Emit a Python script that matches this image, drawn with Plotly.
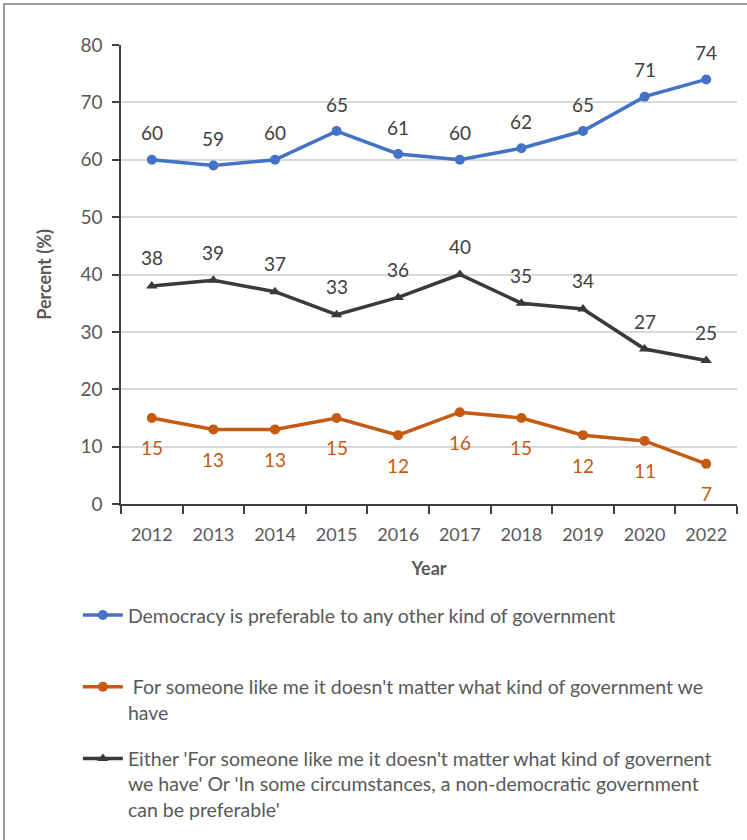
import plotly.graph_objects as go

years = ["2012", "2013", "2014", "2015", "2016", "2017", "2018", "2019", "2020", "2022"]
democracy = [60, 59, 60, 65, 61, 60, 62, 65, 71, 74]
doesnt_matter = [15, 13, 13, 15, 12, 16, 15, 12, 11, 7]
either = [38, 39, 37, 33, 36, 40, 35, 34, 27, 25]

names = [
    "Democracy is preferable to any other kind of government<br> ",
    " For someone like me it doesn't matter what kind of government we<br>have",
    "Either 'For someone like me it doesn't matter what kind of governent<br>we have' Or 'In some circumstances, a non-democratic government<br>can be preferable'",
]

BLUE = "#4472C4"
ORANGE = "#C55A11"
DARK = "#3A3A3A"
TXT = "#595959"
FONT = "Lato"

fig = go.Figure()
fig.add_trace(go.Scatter(x=years, y=democracy, name=names[0], mode="lines+markers",
                         line=dict(color=BLUE, width=3.5), marker=dict(symbol="circle", size=10, color=BLUE),
                         legendgroup="a"))
fig.add_trace(go.Scatter(x=years, y=doesnt_matter, name=names[1], mode="lines+markers",
                         line=dict(color=ORANGE, width=3.5), marker=dict(symbol="circle", size=10, color=ORANGE),
                         legendgroup="b"))
fig.add_trace(go.Scatter(x=years, y=either, name=names[2], mode="lines+markers",
                         line=dict(color=DARK, width=3.5), marker=dict(symbol="triangle-up", size=10, color=DARK),
                         legendgroup="c"))

annotations = []
for i, v in enumerate(democracy):
    annotations.append(dict(x=i, y=v, xref="x", yref="y", text=str(v), showarrow=False, yshift=27,
                            font=dict(family=FONT, size=19, color="#404040")))
for i, v in enumerate(either):
    annotations.append(dict(x=i, y=v, xref="x", yref="y", text=str(v), showarrow=False, yshift=28,
                            font=dict(family=FONT, size=19, color="#404040")))
for i, v in enumerate(doesnt_matter):
    annotations.append(dict(x=i, y=v, xref="x", yref="y", text=str(v), showarrow=False, yshift=-30,
                            font=dict(family=FONT, size=19, color=ORANGE)))

fig.update_layout(
    width=747, height=840,
    margin=dict(l=121, r=10, t=45, b=336),
    paper_bgcolor="white", plot_bgcolor="white",
    font=dict(family=FONT, size=18, color=TXT),
    showlegend=True,
    legend=dict(x=-0.07, y=-0.2, xanchor="left", yanchor="top",
                orientation="v", traceorder="grouped", tracegroupgap=18,
                valign="top", font=dict(family=FONT, size=19.5, color=TXT),
                itemwidth=40, bgcolor="rgba(0,0,0,0)"),
    annotations=annotations,
    shapes=[dict(type="rect", xref="paper", yref="paper",
                 x0=(4 - 121) / 616, x1=(760 - 121) / 616,
                 y0=(504 - 860) / 459, y1=(504 - 4) / 459,
                 line=dict(color="#7F7F7F", width=1.5), layer="below")],
)

fig.update_xaxes(type="category", range=[-0.5, 9.5], tickson="boundaries",
                 showline=True, linecolor="#404040", linewidth=1.5,
                 ticks="outside", ticklen=8, tickcolor="#404040", tickwidth=1.5,
                 ticklabelstandoff=14,
                 showgrid=False, tickfont=dict(family=FONT, size=18, color=TXT),
                 title=dict(text="<b>Year</b>", font=dict(family=FONT, size=18, color=TXT), standoff=18))
fig.update_yaxes(range=[0, 80], dtick=10, showline=True, linecolor="#404040", linewidth=1.5,
                 ticks="outside", ticklen=7, tickcolor="#404040", tickwidth=1.5,
                 ticklabelstandoff=6,
                 showgrid=True, gridcolor="#D9D9D9", gridwidth=1.5, zeroline=False,
                 tickfont=dict(family=FONT, size=19, color=TXT),
                 title=dict(text="<b>Percent (%)</b>", font=dict(family=FONT, size=18, color=TXT), standoff=24))

fig.write_html("out.html")
